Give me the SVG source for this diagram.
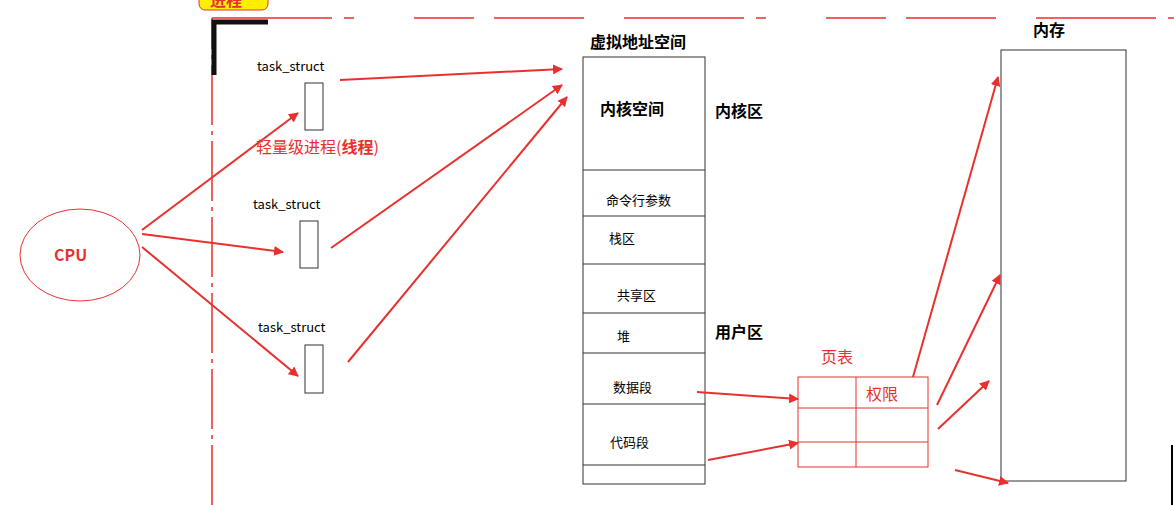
<svg xmlns="http://www.w3.org/2000/svg" width="1174" height="505" viewBox="0 0 1174 505">
<defs>
<marker id="a" viewBox="0 0 10 10" refX="9" refY="5" markerWidth="5" markerHeight="5" orient="auto"><path d="M0,0L10,5L0,10z" fill="#e8312f"/></marker>
<style>
.r{stroke:#e8312f;stroke-width:2;fill:none}
.b{fill:#fff;stroke:#333;stroke-width:1}
.t{font-family:"Microsoft YaHei","Noto Sans CJK SC",sans-serif;font-size:13px;fill:#000}
.h{font-family:"Noto Sans CJK SC",sans-serif;font-size:16px;font-weight:bold;fill:#000}
.rt{font-family:"Noto Sans CJK SC",sans-serif;font-size:16px;fill:#e8312f}
</style>
</defs>
<rect width="1174" height="505" fill="#fff"/>
<g id="process-frame">
<rect x="199" y="-12" width="69" height="22" rx="6" fill="#ffee00" stroke="#e8312f"/>
<text x="210" y="6" class="h" fill="#e8312f" style="fill:#e8312f">进程</text>
<path d="M212,505V18" stroke="#e8312f" stroke-width="1.5" stroke-dasharray="60,6,4,6"/>
<path d="M212,18H1174" stroke="#e8312f" stroke-width="1.5" stroke-dasharray="120,12,10,60,60,20,90,40"/>
<path d="M214,75V22H268" stroke="#111" stroke-width="5" fill="none"/>
<line x1="1172" y1="445" x2="1172" y2="505" stroke="#000" stroke-width="2"/>
</g>
<g id="cpu"><ellipse cx="80" cy="255" rx="60" ry="46" fill="none" stroke="#e8312f"/><text x="54" y="261" class="h" style="fill:#e8312f">CPU</text></g>
<g id="task1"><text x="257" y="71" class="t">task_struct</text><rect x="305" y="83" width="18" height="47" class="b"/></g>
<text x="256" y="153" class="rt">轻量级进程(<tspan font-weight="bold">线程</tspan>)</text>
<g id="task2"><text x="253" y="209" class="t">task_struct</text><rect x="300" y="221" width="18" height="47" class="b"/></g>
<g id="task3"><text x="258" y="332" class="t">task_struct</text><rect x="305" y="345" width="18" height="48" class="b"/></g>
<g id="vas">
<text x="590" y="48" class="h">虚拟地址空间</text>
<rect x="583" y="57" width="122" height="427" class="b"/>
<path d="M583,170H705M583,216H705M583,264H705M583,313H705M583,353H705M583,404H705M583,465H705" stroke="#333"/>
<text x="600" y="115" class="h">内核空间</text>
<text x="606" y="205" class="t">命令行参数</text>
<text x="609" y="243" class="t">栈区</text>
<text x="617" y="300" class="t">共享区</text>
<text x="617" y="341" class="t">堆</text>
<text x="613" y="392" class="t">数据段</text>
<text x="610" y="447" class="t">代码段</text>
<text x="715" y="117" class="h">内核区</text>
<text x="715" y="338" class="h">用户区</text>
</g>
<g id="pagetable">
<text x="821" y="363" class="rt">页表</text>
<rect x="798" y="377" width="130" height="90" fill="none" stroke="#e8312f"/>
<path d="M798,408H928M798,442H928M856,377V467" stroke="#e8312f"/>
<text x="866" y="400" class="rt">权限</text>
</g>
<g id="memory"><text x="1033" y="36" class="h">内存</text><rect x="1001" y="50" width="125" height="431" class="b" stroke-width="1.5"/></g>
<g id="connectors" class="r">
<line x1="142" y1="230" x2="298" y2="113" class="r" marker-end="url(#a)"/>
<line x1="142" y1="234" x2="283" y2="252" class="r" marker-end="url(#a)"/>
<line x1="142" y1="247" x2="298" y2="376" class="r" marker-end="url(#a)"/>
<line x1="340" y1="80" x2="562" y2="69" class="r" marker-end="url(#a)"/>
<line x1="331" y1="248" x2="562" y2="85" class="r" marker-end="url(#a)"/>
<line x1="348" y1="362" x2="567" y2="97" class="r" marker-end="url(#a)"/>
<line x1="697" y1="392" x2="798" y2="399" class="r" marker-end="url(#a)"/>
<line x1="708" y1="460" x2="798" y2="443" class="r" marker-end="url(#a)"/>
<line x1="913" y1="377" x2="998" y2="77" class="r" marker-end="url(#a)"/>
<line x1="937" y1="405" x2="1000" y2="275" class="r" marker-end="url(#a)"/>
<line x1="938" y1="429" x2="989" y2="381" class="r" marker-end="url(#a)"/>
<line x1="955" y1="470" x2="1008" y2="483" class="r" marker-end="url(#a)"/>
</g>
</svg>
